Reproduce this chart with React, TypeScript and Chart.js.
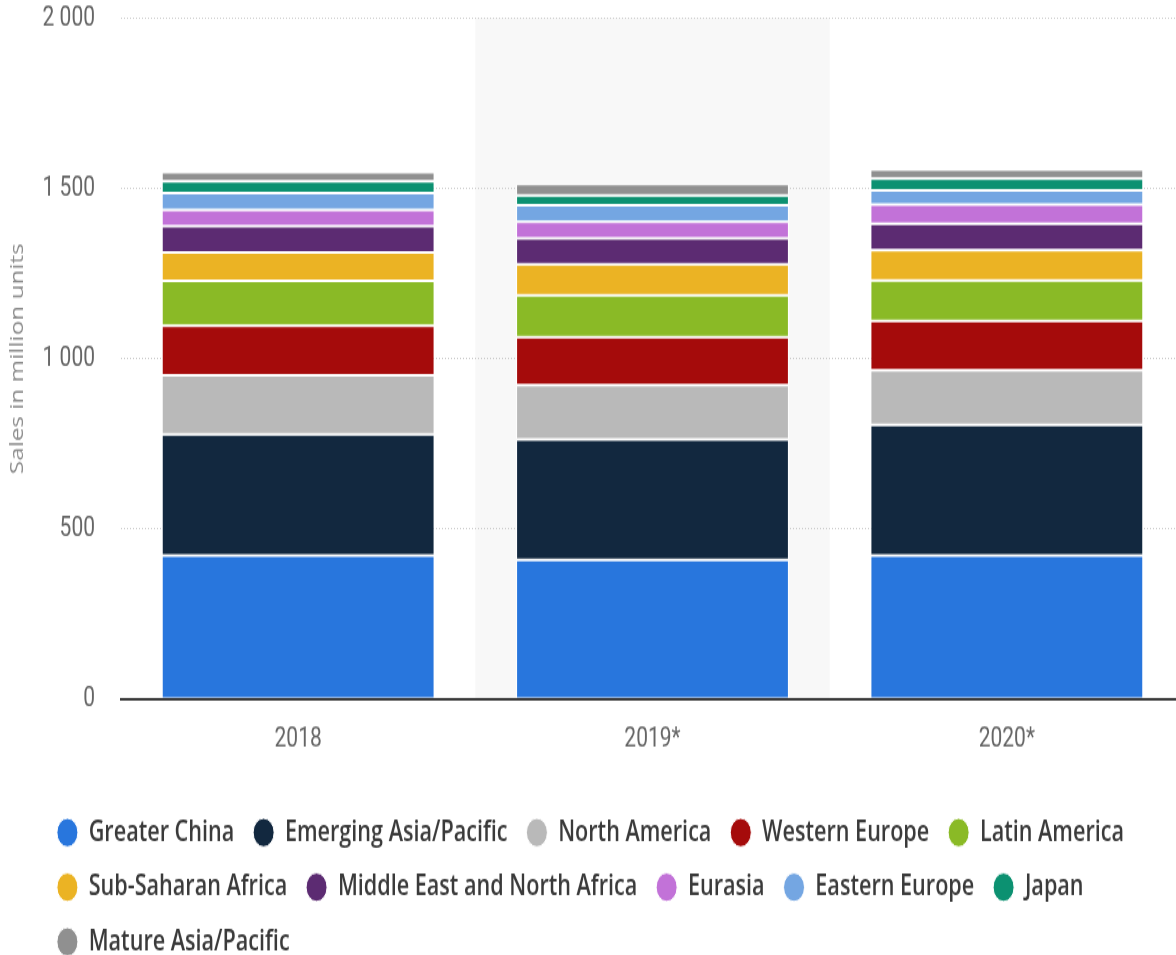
import { useEffect, useRef } from 'react';
import { Chart, registerables } from 'chart.js';

Chart.register(...registerables);

// ---- data ----
const categories = ['2018', '2019*', '2020*'];
const yTickValues = [0, 500, 1000, 1500, 2000];
const yTickLabels = ['0', '500', '1 000', '1 500', '2 000'];

const greaterChina = [422, 409, 422];
const emergingAsiaPacific = [356, 354, 384];
const northAmerica = [173, 160, 160];
const westernEurope = [146, 140, 145];
const latinAmerica = [132, 123, 119];
const subSaharanAfrica = [83, 91, 89];
const middleEastNorthAfrica = [77, 76, 77];
const eurasia = [48, 49, 56];
const easternEurope = [49, 48, 42];
const japan = [35, 29, 35];
const matureAsiaPacific = [27, 34, 26];

const seriesNames = [
  'Greater China',
  'Emerging Asia/Pacific',
  'North America',
  'Western Europe',
  'Latin America',
  'Sub-Saharan Africa',
  'Middle East and North Africa',
  'Eurasia',
  'Eastern Europe',
  'Japan',
  'Mature Asia/Pacific',
];
const seriesValues = [
  greaterChina,
  emergingAsiaPacific,
  northAmerica,
  westernEurope,
  latinAmerica,
  subSaharanAfrica,
  middleEastNorthAfrica,
  eurasia,
  easternEurope,
  japan,
  matureAsiaPacific,
];
const seriesColors = [
  '#2876dd',
  '#12283f',
  '#b9b9b9',
  '#a50b0b',
  '#8aba26',
  '#ebb324',
  '#5c2b72',
  '#c272d8',
  '#74a6e2',
  '#0c9171',
  '#909090',
];
const highlightedCategory = 1;

// ---- layout ----
const W = 1184;
const H = 720;
const STRETCH = 1.35;

const bandPlugin = {
  id: 'categoryBand',
  beforeDraw(chart: any) {
    const { ctx, chartArea, scales } = chart;
    const xs = scales.x;
    if (!xs || !chartArea) return;
    const c = xs.getPixelForValue(highlightedCategory);
    const half = (xs.getPixelForValue(1) - xs.getPixelForValue(0)) / 2;
    ctx.save();
    ctx.fillStyle = '#f8f8f8';
    ctx.fillRect(c - half, chartArea.top, half * 2, chartArea.bottom - chartArea.top);
    ctx.restore();
  },
};

export default function App() {
  const ref = useRef<HTMLCanvasElement>(null);

  useEffect(() => {
    const canvas = ref.current;
    if (!canvas) return;
    const chart = new Chart(canvas, {
      type: 'bar',
      data: {
        labels: categories,
        datasets: seriesNames.map((name, i) => ({
          label: name,
          data: seriesValues[i],
          backgroundColor: seriesColors[i],
          borderColor: '#ffffff',
          borderWidth: 1,
          borderSkipped: false,
          barPercentage: 0.77,
          categoryPercentage: 1,
        })),
      },
      options: {
        responsive: false,
        animation: false,
        devicePixelRatio: 1,
        layout: { padding: { top: 13.3, left: 38, right: 0, bottom: 1.5 } },
        plugins: {
          legend: {
            position: 'bottom',
            align: 'start',
            labels: {
              usePointStyle: true,
              pointStyle: 'circle',
              boxHeight: 15,
              pointStyleWidth: 21,
              padding: 18.9,
              color: '#3a3a3a',
              font: { family: "'Open Sans', Roboto, sans-serif", size: 21.6, weight: '600' },
            },
          },
          tooltip: { enabled: false },
        },
        scales: {
          x: {
            stacked: true,
            grid: { display: false },
            border: { display: true, color: '#3a3a3a', width: 2, z: 1 },
            ticks: {
              color: '#666666',
              font: { family: 'Roboto', size: 21 },
              padding: 8.8,
            },
            afterFit: (s: any) => {
              s.height = 68.9;
            },
          },
          y: {
            stacked: true,
            min: 0,
            max: 2000,
            ticks: {
              stepSize: 500,
              padding: 26,
              color: '#666666',
              font: { family: 'Roboto', size: 21 },
              callback: (v: any) => {
                const idx = yTickValues.indexOf(Number(v));
                return idx >= 0 ? yTickLabels[idx] : String(v);
              },
            },
            grid: { color: '#cccccc', lineWidth: 1, drawTicks: false },
            border: { display: false, dash: [1, 2] },
            title: {
              display: true,
              text: 'Sales in million units',
              color: '#8c8c8c',
              font: { family: "'Open Sans', sans-serif", size: 18 },
              padding: { top: -30.8, bottom: 0 },
            },
            afterFit: (s: any) => {
              s.width = 83;
              s.paddingTop = 0;
              s.paddingBottom = 0;
            },
          },
        },
      },
      plugins: [bandPlugin],
    } as any);
    return () => chart.destroy();
  }, []);

  return (
    <div
      style={{
        position: 'fixed',
        left: 0,
        top: 0,
        width: 1176,
        height: 955,
        overflow: 'hidden',
        background: '#ffffff',
      }}
    >
      <canvas
        ref={ref}
        width={W}
        height={H}
        style={{ width: `${W}px`, height: `${H * STRETCH}px`, display: 'block' }}
      />
    </div>
  );
}
